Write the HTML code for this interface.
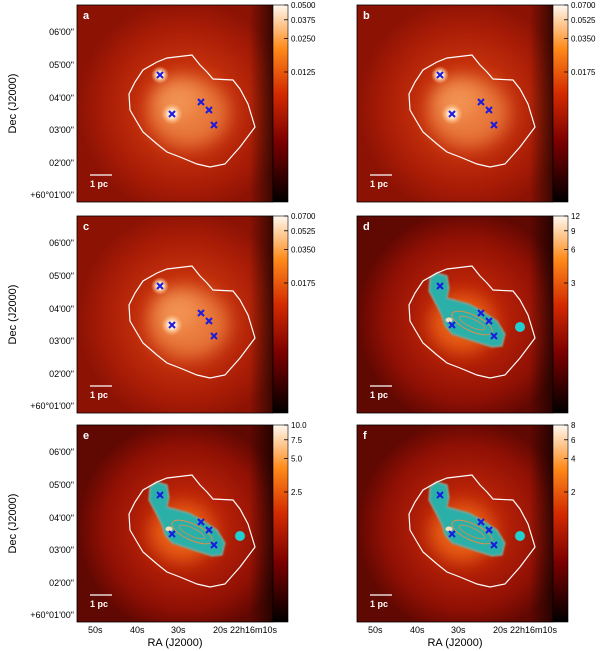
<!DOCTYPE html>
<html><head><meta charset="utf-8"><style>
body{margin:0;background:#fff;}
svg{display:block;font-family:"Liberation Sans","DejaVu Sans",sans-serif;}
</style></head><body>
<svg id="fig" width="600" height="651" viewBox="0 0 600 651" xmlns="http://www.w3.org/2000/svg">
<defs>
<linearGradient id="cbar" x1="0" y1="1" x2="0" y2="0">
<stop offset="0" stop-color="#000"/><stop offset="0.3" stop-color="#7a0000"/><stop offset="0.55" stop-color="#d42a00"/><stop offset="0.78" stop-color="#ff8a1a"/><stop offset="1" stop-color="#fff8f0"/>
</linearGradient>
<radialGradient id="glowA" cx="0.55" cy="0.52" r="0.55">
<stop offset="0" stop-color="#e0581c"/><stop offset="0.4" stop-color="#c4300c"/><stop offset="0.75" stop-color="#a81c06"/><stop offset="1" stop-color="#8c1204"/>
</radialGradient>
<radialGradient id="glowD" cx="0.55" cy="0.52" r="0.55">
<stop offset="0" stop-color="#d8400c"/><stop offset="0.35" stop-color="#b82208"/><stop offset="0.75" stop-color="#901004"/><stop offset="1" stop-color="#600802"/>
</radialGradient>
<radialGradient id="spot" cx="0.5" cy="0.5" r="0.5">
<stop offset="0" stop-color="#fff"/><stop offset="0.4" stop-color="#ffe0c0"/><stop offset="1" stop-color="#ffb070" stop-opacity="0"/>
</radialGradient>
<linearGradient id="edge" x1="0" y1="0" x2="1" y2="0">
<stop offset="0.88" stop-color="#000" stop-opacity="0"/><stop offset="1" stop-color="#000" stop-opacity="0.6"/>
</linearGradient>
<filter id="blur" x="-50%" y="-50%" width="200%" height="200%"><feGaussianBlur stdDeviation="9"/></filter>
<filter id="blur2"><feGaussianBlur stdDeviation="0.8"/></filter>
</defs>
</svg>
<script>
const panelLabels = ['a','b','c','d','e','f'];
const cbarTicks = [
  ['0.0500','0.0375','0.0250','0.0125'],
  ['0.0700','0.0525','0.0350','0.0175'],
  ['0.0700','0.0525','0.0350','0.0175'],
  ['12','9','6','3'],
  ['10.0','7.5','5.0','2.5'],
  ['8','6','4','2']
];
const cbarFrac = [0, 0.075, 0.17, 0.34];
const contourX = [115,123,130,136,156,163,171,178,163,148,133,120,103,90,80,66,60,53,52,58,66,80,90];
const contourY = [50,60,67,74,75,84,99,122,142,159,162,159,152,147,139,127,117,105,89,77,65,57,53];
const crossX = [83,95,124,132,137];
const crossY = [70,109,97,105,120];
const decLabels = ["06'00\"","05'00\"","04'00\"","03'00\"","02'00\"","+60°01'00\""];
const decPos = [27,60,93,125,158,190];
const raLabels = ['50s','40s','30s','20s 22h16m10s'];
const raPos = [11,53,94,136];

const NS='http://www.w3.org/2000/svg';
const svg=document.getElementById('fig');
function mk(tag,attrs,parent){const e=document.createElementNS(NS,tag);for(const k in attrs)e.setAttribute(k,attrs[k]);(parent||svg).appendChild(e);return e;}
const W=196,H=197;
const cols=[77,357], rows=[5,216,425];
function sx(p,v){return p.x+v*W/196;}
function sy(p,v){return p.y+v*H/197;}

panelLabels.forEach((lab,i)=>{
  const p={x:cols[i%2],y:rows[Math.floor(i/2)]};
  const g=mk('g',{});
  
  
  const radio=i>=3;
  mk('rect',{x:p.x,y:p.y,width:W,height:H,fill:radio?'url(#glowD)':'url(#glowA)'},g);
  mk('rect',{x:p.x,y:p.y,width:W,height:H,fill:'url(#edge)'},g);
  const inner=mk('g',{'clip-path':'none'},g);
  if(!radio){
    mk('ellipse',{cx:sx(p,112),cy:sy(p,108),rx:40,ry:34,fill:'#f08a48',opacity:0.75,filter:'url(#blur)'},inner);
    mk('ellipse',{cx:sx(p,100),cy:sy(p,95),rx:22,ry:20,fill:'#f6a060',opacity:0.6,filter:'url(#blur)'},inner);
    mk('circle',{cx:sx(p,83),cy:sy(p,70),r:9,fill:'url(#spot)'},inner);
    mk('circle',{cx:sx(p,95),cy:sy(p,109),r:11,fill:'url(#spot)'},inner);
  } else {
    mk('ellipse',{cx:sx(p,105),cy:sy(p,108),rx:32,ry:28,fill:'#f06a18',opacity:0.8,filter:'url(#blur)'},inner);
    const blob='M'+[[73,62],[80,57],[90,60],[92,72],[90,82],[112,88],[125,95],[140,105],[148,118],[145,130],[135,131],[110,123],[95,118],[88,110],[85,100],[80,90],[72,75]].map(q=>sx(p,q[0])+','+sy(p,q[1])).join(' L')+'Z';
    const b=mk('path',{d:blob,fill:'#2cb0a8',stroke:'#8a9a88','stroke-width':1.5,'stroke-linejoin':'round',filter:'url(#blur2)'},g);
    
    
    mk('ellipse',{cx:sx(p,115),cy:sy(p,107),rx:22,ry:8,fill:'none',stroke:'#d89050','stroke-width':1,transform:'rotate(25 '+sx(p,115)+' '+sy(p,107)+')'},g);
    mk('ellipse',{cx:sx(p,115),cy:sy(p,107),rx:14,ry:4,fill:'none',stroke:'#d89050','stroke-width':0.8,transform:'rotate(25 '+sx(p,115)+' '+sy(p,107)+')'},g);
    mk('ellipse',{cx:sx(p,92),cy:sy(p,104),rx:3.5,ry:2.5,fill:'#f0e0c0'},g);
    const d=mk('circle',{cx:sx(p,163),cy:sy(p,111),r:5,fill:'#20d0d0'},g);
    
    
  }
  const pts=contourX.map((x,k)=>sx(p,x)+','+sy(p,contourY[k])).join(' ');
  const c=mk('polygon',{points:pts,fill:'none',stroke:'#fff','stroke-width':1.2},g);
  
  
  crossX.forEach((x,k)=>{
    const cx=sx(p,x),cy=sy(p,crossY[k]);
    const m=mk('path',{d:`M${cx-3},${cy-3}L${cx+3},${cy+3}M${cx-3},${cy+3}L${cx+3},${cy-3}`,stroke:'#1a1ae0','stroke-width':2},g);
    
    
  });
  const t=mk('text',{x:p.x+6,y:p.y+14,fill:'#fff','font-size':11,'font-weight':'bold'},g);t.textContent=lab;
  
  
  mk('line',{x1:p.x+13,y1:p.y+170,x2:p.x+35,y2:p.y+170,stroke:'#fff','stroke-width':1.2},g);
  const sb=mk('text',{x:p.x+13,y:p.y+182,fill:'#fff','font-size':9,'font-weight':'bold'},g);sb.textContent='1 pc';
  
  
  mk('rect',{x:p.x,y:p.y,width:W,height:H,fill:'none',stroke:'#000','stroke-width':0.8},g);
  const cb=mk('rect',{x:p.x+W,y:p.y,width:15,height:H,fill:'url(#cbar)',stroke:'#000','stroke-width':0.6},g);
  
  
  cbarTicks[i].forEach((tl,k)=>{
    const ty=p.y+cbarFrac[k]*H;
    mk('line',{x1:p.x+W+11,y1:ty,x2:p.x+W+15,y2:ty,stroke:'#000','stroke-width':0.8},g);
    const tt=mk('text',{x:p.x+W+18,y:ty+3,'font-size':8,fill:'#000'},g);tt.textContent=tl;
    
    
  });
  if(i%2===0){
    decLabels.forEach((dl,k)=>{
      const tt=mk('text',{x:p.x-3,y:p.y+decPos[k]+3,'font-size':9,'text-anchor':'end',fill:'#000'},g);tt.textContent=dl;
      
      
    });
    const yl=mk('text',{x:0,y:0,'font-size':11,'text-anchor':'middle',fill:'#000',transform:`translate(16,${p.y+H/2}) rotate(-90)`},g);yl.textContent='Dec (J2000)';
    
    
  }
  if(i>=4){
    raLabels.forEach((rl,k)=>{
      const tt=mk('text',{x:p.x+raPos[k],y:p.y+H+11,'font-size':9,fill:'#000'},g);tt.textContent=rl;
      
      
    });
    const xl=mk('text',{x:p.x+W/2,y:p.y+H+24,'font-size':11,'text-anchor':'middle',fill:'#000'},g);xl.textContent='RA (J2000)';
    
    
  }
});
</script>
</body></html>
